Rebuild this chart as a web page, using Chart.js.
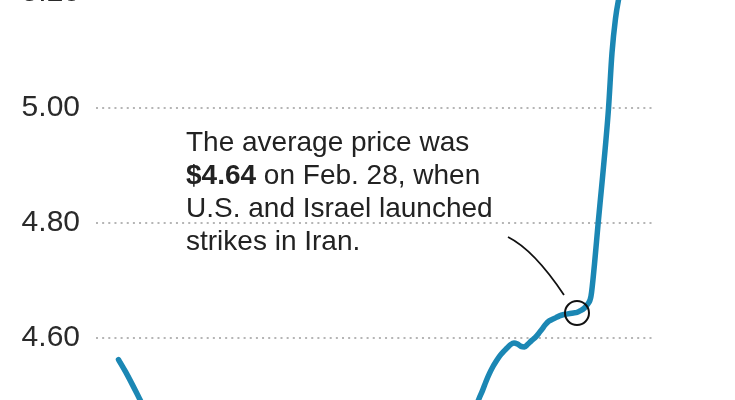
<!DOCTYPE html>
<html>
<head>
<meta charset="utf-8">
<script src="https://cdn.jsdelivr.net/npm/chart.js@4"></script>
<style>
  html, body { margin: 0; padding: 0; background: #fff; }
  #wrap { width: 735px; height: 400px; position: relative; }
</style>
</head>
<body>
<div id="wrap"><canvas id="gasChart"></canvas></div>
<script>
// days relative to Feb. 28 (day 0), average price in dollars
const days = [-131, -129, -127, -125, -123, -120, -115, -110, -105, -100, -95, -90, -85, -80, -75, -70, -65, -60, -55, -50, -45, -40, -35, -30,
  -28, -27, -26, -25, -24, -23, -22, -21, -20, -19, -18, -17, -16, -15, -14, -13, -12, -11, -10, -9, -8, -7, -6, -5, -4, -3, -2, -1, 0,
  1, 2, 3, 4, 5, 6, 7, 8, 9, 10, 11, 12, 13];
const prices = [4.562, 4.541, 4.518, 4.494, 4.470, 4.450, 4.425, 4.400, 4.380, 4.360, 4.345, 4.333, 4.322, 4.312, 4.308, 4.303, 4.305, 4.312, 4.330, 4.355, 4.385, 4.415, 4.440, 4.462,
  4.494, 4.508, 4.524, 4.538, 4.550, 4.560, 4.569, 4.576, 4.582, 4.588, 4.591, 4.589, 4.585, 4.584, 4.589, 4.595, 4.600, 4.607, 4.615, 4.623, 4.629, 4.632, 4.635, 4.638, 4.640, 4.641, 4.642, 4.643, 4.644,
  4.647, 4.651, 4.658, 4.672, 4.728, 4.796, 4.860, 4.925, 4.998, 5.095, 5.155, 5.192, 5.220];
const yTicks = [4.60, 4.80, 5.00, 5.20];
const markDay = 0;
const markPrice = 4.643;
const noteLines = [
  [{ t: 'The average price was', b: false }],
  [{ t: '$4.64', b: true }, { t: ' on Feb. 28, when', b: false }],
  [{ t: 'U.S. and Israel launched', b: false }],
  [{ t: 'strikes in Iran.', b: false }]
];

const FONT = "'Liberation Sans', Arial, sans-serif";

/* annotation: text block + curved leader to the marked point */
const notePlugin = {
  id: 'note',
  afterDatasetsDraw(chart) {
    const c = chart.ctx;
    const px = chart.scales.x.getPixelForValue(markDay);
    const py = chart.scales.y.getPixelForValue(markPrice);
    c.save();
    c.fillStyle = '#222';
    c.textBaseline = 'alphabetic';
    noteLines.forEach((line, i) => {
      let x = 186;
      const y = 151 + i * 33;
      line.forEach(seg => {
        c.font = (seg.b ? 'bold ' : '') + '28px ' + FONT;
        c.fillText(seg.t, x, y);
        x += c.measureText(seg.t).width;
      });
    });
    // leader
    c.strokeStyle = '#111';
    c.lineWidth = 1.8;
    c.beginPath();
    c.moveTo(px - 69, py - 76);
    c.quadraticCurveTo(px - 43, py - 63, px - 13, py - 18);
    c.stroke();
    c.restore();
  }
};

new Chart(document.getElementById('gasChart'), {
  type: 'line',
  data: {
    datasets: [
      {
        data: days.map((d, i) => ({ x: d, y: prices[i] })),
        borderColor: '#1b87b4',
        borderWidth: 5.5,
        borderCapStyle: 'round',
        borderJoinStyle: 'round',
        cubicInterpolationMode: 'monotone',
        pointRadius: 0,
        fill: false,
        clip: false,
        order: 2
      },
      {
        data: [{ x: markDay, y: markPrice }],
        showLine: false,
        pointRadius: 12,
        pointBorderWidth: 2,
        pointBorderColor: '#111',
        pointBackgroundColor: 'rgba(0,0,0,0)',
        clip: false,
        order: 1
      }
    ]
  },
  options: {
    responsive: true,
    maintainAspectRatio: false,
    animation: false,
    layout: { autoPadding: false, padding: { left: 0, right: 80, top: 0, bottom: 0 } },
    plugins: { legend: { display: false }, tooltip: { enabled: false } },
    scales: {
      x: {
        type: 'linear',
        display: false,
        min: -137.43,
        max: 22.29
      },
      y: {
        min: 4.4917,
        max: 5.1873,
        afterBuildTicks: s => { s.ticks = yTicks.map(v => ({ value: v })); },
        afterFit: s => {
          s.width = 96;
          s.paddingTop = 0;
          s.paddingBottom = 0;
        },
        border: { display: false, dash: [2, 4.15] },
        grid: {
          color: '#b5b5b5',
          lineWidth: 2,
          drawTicks: false
        },
        ticks: {
          autoSkip: false,
          padding: 16,
          color: '#2a2a2a',
          font: { family: FONT, size: 30 },
          callback: v => v.toFixed(2)
        }
      }
    }
  },
  plugins: [notePlugin]
});
</script>
</body>
</html>
